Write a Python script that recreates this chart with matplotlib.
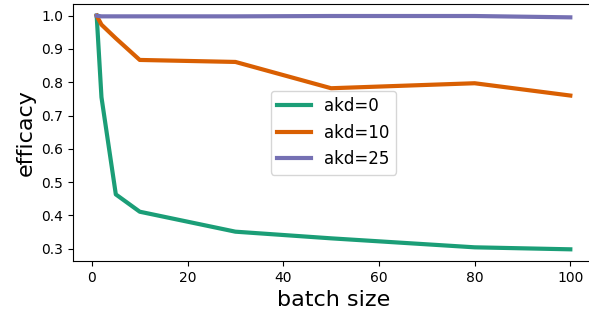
import matplotlib
matplotlib.use("Agg")
import matplotlib.pyplot as plt

# batch sizes and efficacy per akd setting
batch_sizes = [1, 2, 5, 10, 30, 50, 80, 100]
akd_0 = [1.0, 0.755, 0.463, 0.411, 0.351, 0.331, 0.304, 0.298]
akd_10 = [1.0, 0.973, 0.932, 0.867, 0.861, 0.782, 0.797, 0.760]
akd_25 = [1.0, 0.998, 0.998, 0.998, 0.998, 0.999, 0.999, 0.995]
labels = ["akd=0", "akd=10", "akd=25"]
colors = ["#1b9e77", "#d95f02", "#7570b3"]

fig = plt.figure(figsize=(5.89, 3.21), dpi=100)
ax = fig.add_axes([73 / 589, 60 / 321, 521 / 589, 257 / 321])

for ys, lab, col in zip([akd_0, akd_10, akd_25], labels, colors):
    ax.plot(batch_sizes, ys, color=col, linewidth=3, label=lab)

ax.set_xlabel("batch size", fontsize=16)
ax.set_ylabel("efficacy", fontsize=16)
ax.tick_params(labelsize=10)
ax.spines["right"].set_visible(False)
ax.legend(loc="center", fontsize=12)

fig.savefig("out.png", dpi=100)
